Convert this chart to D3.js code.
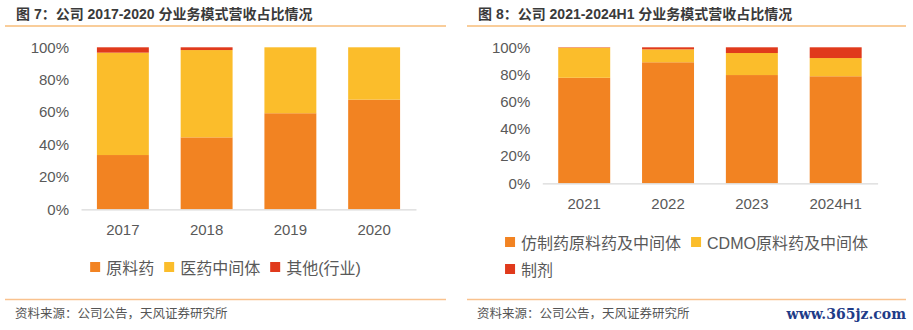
<!DOCTYPE html>
<html>
<head>
<meta charset="utf-8">
<script src="https://cdn.jsdelivr.net/npm/d3@7"></script>
<style>
  body { margin: 0; background: #fff; }
  svg { display: block; font-family: "Liberation Sans", Arial, "Noto Sans CJK SC", sans-serif; }
  .cjk { font-family: "Noto Sans CJK SC", "Liberation Sans", sans-serif; }
  .mixed { font-family: "Liberation Sans", Arial, "Noto Sans CJK SC", sans-serif; }
</style>
</head>
<body>
<div id="chart"></div>
<script>
// revenue share by business model, percent of total
var years1 = ["2017", "2018", "2019", "2020"];
var apiShare1 = [33.5, 44.4, 59.3, 67.7];
var intermediateShare1 = [63.2, 53.9, 40.7, 32.3];
var otherShare1 = [3.3, 1.7, 0, 0];
var names1 = ["原料药", "医药中间体", "其他(行业)"];

var years2 = ["2021", "2022", "2023", "2024H1"];
var genericShare2 = [77.6, 89.0, 79.6, 78.7];
var cdmoShare2 = [22.1, 9.5, 16.2, 13.4];
var formulationShare2 = [0.3, 1.5, 4.2, 7.9];
var names2 = ["仿制药原料药及中间体", "CDMO原料药及中间体", "制剂"];

var yTicks = [0, 20, 40, 60, 80, 100];
var colors = ["#F28322", "#FBBD2B", "#E03A1C"];

var svg = d3.select("#chart").append("svg")
    .attr("width", 913)
    .attr("height", 330);

function panel(opts) {
  var g = svg.append("g");

  // header and footer
  g.append("text")
    .attr("class", "mixed")
    .attr("x", opts.left + 11)
    .attr("y", 14)
    .attr("dominant-baseline", "central")
    .attr("font-size", 14)
    .attr("font-weight", "bold")
    .attr("fill", "#3a3a3a")
    .text(opts.title);

  g.append("line")
    .attr("x1", opts.left).attr("x2", opts.right)
    .attr("y1", 26).attr("y2", 26)
    .attr("stroke", "#F39B36").attr("stroke-width", 1.2);

  g.append("line")
    .attr("x1", opts.left).attr("x2", opts.right)
    .attr("y1", 299.5).attr("y2", 299.5)
    .attr("stroke", "#F9C28E").attr("stroke-width", 1.5);

  g.append("text")
    .attr("class", "cjk")
    .attr("x", opts.left + 10)
    .attr("y", 312)
    .attr("dominant-baseline", "central")
    .attr("font-size", 12.5)
    .attr("fill", "#555")
    .text("资料来源：公司公告，天风证券研究所");

  // stacked bars
  var rows = opts.cats.map(function(c, i) {
    var r = {cat: c};
    opts.series.forEach(function(s, k) { r[k] = s[i]; });
    return r;
  });
  var stack = d3.stack().keys(opts.series.map(function(s, k) { return k; }));
  var layers = stack(rows);

  var x = d3.scaleBand()
    .domain(opts.cats)
    .range([opts.x0, opts.x1])
    .paddingInner(0.38)
    .paddingOuter(0.19);

  var y = d3.scaleLinear()
    .domain([0, 100])
    .range([opts.y0, 47.3]);

  g.append("g")
    .selectAll("g")
    .data(layers)
    .join("g")
    .attr("fill", function(d, i) { return colors[i]; })
    .selectAll("rect")
    .data(function(d) { return d; })
    .join("rect")
    .attr("x", function(d) { return x(d.data.cat); })
    .attr("width", x.bandwidth())
    .attr("y", function(d) { return y(d[1]); })
    .attr("height", function(d) { return y(d[0]) - y(d[1]); });

  var yAxis = g.append("g")
    .attr("transform", "translate(" + opts.x0 + ",0)")
    .call(d3.axisLeft(y).tickValues(yTicks).tickSize(0).tickPadding(12)
      .tickFormat(function(d) { return d + "%"; }));
  yAxis.select(".domain").remove();
  yAxis.selectAll("text").attr("font-size", 15).attr("fill", "#595959")
    .attr("font-family", "Liberation Sans, Arial, sans-serif");

  var xAxis = g.append("g")
    .attr("transform", "translate(0," + opts.y0 + ")")
    .call(d3.axisBottom(x).tickSize(0).tickSizeOuter(0).tickPadding(15));
  xAxis.select(".domain").attr("stroke", "#d9d9d9").attr("stroke-width", 1.2);
  xAxis.selectAll("text").attr("font-size", 15).attr("fill", "#595959")
    .attr("font-family", "Liberation Sans, Arial, sans-serif");

  // legend, flowing onto a second row when it runs out of room
  var leg = g.append("g");
  var items = opts.names.map(function(n, i) {
    var it = leg.append("g");
    it.append("rect")
      .attr("width", 10).attr("height", 10)
      .attr("y", -5)
      .attr("fill", colors[i]);
    var t = it.append("text")
      .attr("class", "mixed")
      .attr("x", 16)
      .attr("dominant-baseline", "central")
      .attr("y", 1.5)
      .attr("font-size", 16)
      .attr("fill", "#595959")
      .text(n);
    return {node: it, w: 16 + t.node().getComputedTextLength()};
  });

  var lines = [[]], lineW = [0];
  items.forEach(function(it) {
    var cur = lines.length - 1;
    var add = (lines[cur].length ? 10 : 0) + it.w;
    if (lineW[cur] + add > opts.legendMax && lines[cur].length) {
      lines.push([it]); lineW.push(it.w);
    } else {
      lines[cur].push(it); lineW[cur] += add;
    }
  });
  var startX = (opts.left + opts.right) / 2 - lineW[0] / 2;
  lines.forEach(function(line, r) {
    var cx = startX;
    line.forEach(function(it) {
      it.node.attr("transform", "translate(" + cx + "," + (opts.legendY + r * 27) + ")");
      cx += it.w + 10;
    });
  });
}

panel({
  left: 5, right: 446,
  title: "图 7：公司 2017-2020 分业务模式营收占比情况",
  cats: years1,
  series: [apiShare1, intermediateShare1, otherShare1],
  names: names1,
  x0: 81, x1: 416, y0: 209.3,
  legendY: 267, legendMax: 400
});

panel({
  left: 467, right: 906,
  title: "图 8：公司 2021-2024H1 分业务模式营收占比情况",
  cats: years2,
  series: [genericShare2, cdmoShare2, formulationShare2],
  names: names2,
  x0: 542.3, x1: 877.6, y0: 183.3,
  legendY: 242, legendMax: 380
});

svg.append("text")
  .attr("x", 906)
  .attr("y", 314)
  .attr("text-anchor", "end")
  .attr("dominant-baseline", "central")
  .attr("font-family", "DejaVu Serif, serif")
  .attr("font-weight", "bold")
  .attr("font-size", 14)
  .attr("fill", "#1F3C88")
  .text("www.365jz.com");
</script>
</body>
</html>
